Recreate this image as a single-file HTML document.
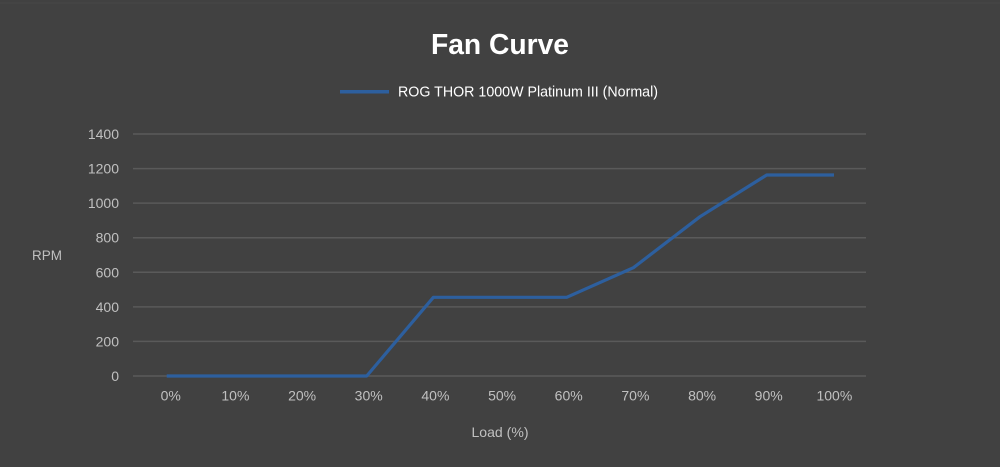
<!DOCTYPE html>
<html>
<head>
<meta charset="utf-8">
<style>
  html, body { margin: 0; padding: 0; background: #414141; }
  body { width: 1000px; height: 467px; overflow: hidden; }
  svg { display: block; }
  text { font-family: "Liberation Sans", "DejaVu Sans", sans-serif; }
</style>
</head>
<body>
<svg width="1000" height="467" viewBox="0 0 1000 467" xmlns="http://www.w3.org/2000/svg">
  <rect x="0" y="0" width="1000" height="467" fill="#414141"/>
  <line x1="0" y1="3" x2="1000" y2="3" stroke="#484848" stroke-width="1"/>

  <!-- Title -->
  <text x="500" y="54" text-anchor="middle" font-size="28.5" font-weight="bold" fill="#ffffff" textLength="138" lengthAdjust="spacingAndGlyphs">Fan Curve</text>

  <!-- Legend -->
  <line x1="340" y1="91.7" x2="389" y2="91.7" stroke="#2d5f9e" stroke-width="3.5"/>
  <text x="398" y="96.7" font-size="15" fill="#ffffff" textLength="260" lengthAdjust="spacingAndGlyphs">ROG THOR 1000W Platinum III (Normal)</text>

  <!-- Gridlines -->
  <g stroke="#5a5a5a" stroke-width="1.5">
    <line x1="133" y1="134" x2="866" y2="134"/>
    <line x1="133" y1="168.6" x2="866" y2="168.6"/>
    <line x1="133" y1="203.1" x2="866" y2="203.1"/>
    <line x1="133" y1="237.7" x2="866" y2="237.7"/>
    <line x1="133" y1="272.3" x2="866" y2="272.3"/>
    <line x1="133" y1="306.9" x2="866" y2="306.9"/>
    <line x1="133" y1="341.4" x2="866" y2="341.4"/>
    <line x1="133" y1="376" x2="866" y2="376"/>
  </g>

  <!-- Y labels -->
  <g font-size="14" fill="#c0c0c0" text-anchor="end">
    <text x="119" y="139">1400</text>
    <text x="119" y="173.6">1200</text>
    <text x="119" y="208.1">1000</text>
    <text x="119" y="242.7">800</text>
    <text x="119" y="277.3">600</text>
    <text x="119" y="311.9">400</text>
    <text x="119" y="346.4">200</text>
    <text x="119" y="381">0</text>
  </g>

  <!-- Y axis title -->
  <text x="32" y="260" font-size="14" fill="#c0c0c0" textLength="30" lengthAdjust="spacingAndGlyphs">RPM</text>

  <!-- X labels -->
  <g font-size="14" fill="#c0c0c0" text-anchor="middle">
    <text x="170.7" y="400.5">0%</text>
    <text x="235.4" y="400.5">10%</text>
    <text x="302.1" y="400.5">20%</text>
    <text x="368.7" y="400.5">30%</text>
    <text x="435.4" y="400.5">40%</text>
    <text x="502.1" y="400.5">50%</text>
    <text x="568.7" y="400.5">60%</text>
    <text x="635.4" y="400.5">70%</text>
    <text x="702.1" y="400.5">80%</text>
    <text x="768.7" y="400.5">90%</text>
    <text x="834.4" y="400.5">100%</text>
  </g>

  <!-- X axis title -->
  <text x="500" y="437" font-size="14" fill="#c0c0c0" text-anchor="middle" textLength="57" lengthAdjust="spacingAndGlyphs">Load (%)</text>

  <!-- Series -->
  <polyline fill="none" stroke="#2d5f9e" stroke-width="3.2" stroke-linejoin="round" stroke-linecap="butt"
    points="166.7,376 233.4,376 300,376 366.7,376 433.4,297.3 500,297.3 566.7,297.3 633.4,267.7 700,216.7 766.7,175 834,175"/>
</svg>
</body>
</html>
